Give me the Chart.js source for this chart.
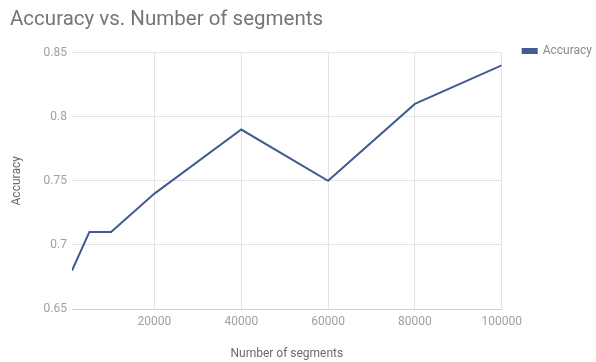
<!DOCTYPE html>
<html>
<head>
<meta charset="utf-8">
<script src="https://cdn.jsdelivr.net/npm/chart.js@4/dist/chart.umd.min.js"></script>
<style>
  html, body { margin: 0; padding: 0; background: #fff; }
  #wrap { width: 596px; height: 362px; }
</style>
</head>
<body>
<div id="wrap"><canvas id="c" width="596" height="362"></canvas></div>
<script>
const segments = [1000, 5000, 10000, 20000, 40000, 60000, 80000, 100000];
const accuracy = [0.68, 0.71, 0.71, 0.74, 0.79, 0.75, 0.81, 0.84];
const xTicks = [20000, 40000, 60000, 80000, 100000];
const yTicks = [0.65, 0.7, 0.75, 0.8, 0.85];

Chart.defaults.font.family = 'Roboto, Arial, sans-serif';

new Chart(document.getElementById('c'), {
  type: 'line',
  data: {
    datasets: [{
      label: 'Accuracy',
      data: segments.map((s, i) => ({ x: s, y: accuracy[i] })),
      borderColor: '#415c90',
      backgroundColor: '#415c90',
      borderWidth: 2,
      pointRadius: 0,
      tension: 0
    }]
  },
  options: {
    responsive: false,
    animation: false,
    layout: { padding: { left: 10, right: -6, top: 0, bottom: 0 } },
    plugins: {
      title: {
        display: true,
        text: 'Accuracy vs. Number of segments',
        align: 'start',
        color: '#757575',
        font: { size: 20.5, weight: 'normal' },
        padding: { top: 8, bottom: 20 }
      },
      legend: {
        position: 'right',
        align: 'start',
        title: {
          display: true,
          text: ' ',
          font: { size: 10 },
          padding: { top: 28, bottom: 0 }
        },
        labels: {
          boxWidth: 14,
          boxHeight: 4,
          color: '#8a8a8a',
          font: { size: 12 },
          padding: 5
        }
      },
      tooltip: { enabled: false }
    },
    scales: {
      x: {
        type: 'linear',
        min: segments[0],
        max: 100000,
        afterBuildTicks: (axis) => { axis.ticks = xTicks.map(v => ({ value: v })); },
        afterFit: (axis) => { axis.height = 53; },
        ticks: {
          color: '#a0a0a0',
          font: { size: 12 },
          maxRotation: 0,
          padding: 6,
          callback: (v) => String(v)
        },
        grid: { color: '#e3e3e3', drawTicks: false },
        border: { display: false },
        title: {
          display: true,
          text: 'Number of segments',
          color: '#6a6a6a',
          font: { size: 12 },
          padding: { top: 4, bottom: 1 }
        }
      },
      y: {
        min: 0.65,
        max: 0.85,
        afterBuildTicks: (axis) => { axis.ticks = yTicks.map(v => ({ value: v })); },
        afterFit: (axis) => { axis.width = 62; },
        ticks: {
          color: '#a0a0a0',
          font: { size: 12 },
          padding: 5,
          callback: (v) => String(v)
        },
        grid: {
          color: (ctx) => (ctx.tick && ctx.tick.value === yTicks[0]) ? '#cfcfcf' : '#e3e3e3',
          drawTicks: false
        },
        border: { display: false },
        title: {
          display: true,
          text: 'Accuracy',
          color: '#6a6a6a',
          font: { size: 12 },
          padding: { top: 0, bottom: 4 }
        }
      },
      y2: {
        position: 'right',
        display: true,
        afterFit: (axis) => { axis.width = 16; },
        grid: { display: false, drawTicks: false },
        ticks: { display: false },
        border: { display: false }
      }
    }
  }
});
</script>
</body>
</html>
